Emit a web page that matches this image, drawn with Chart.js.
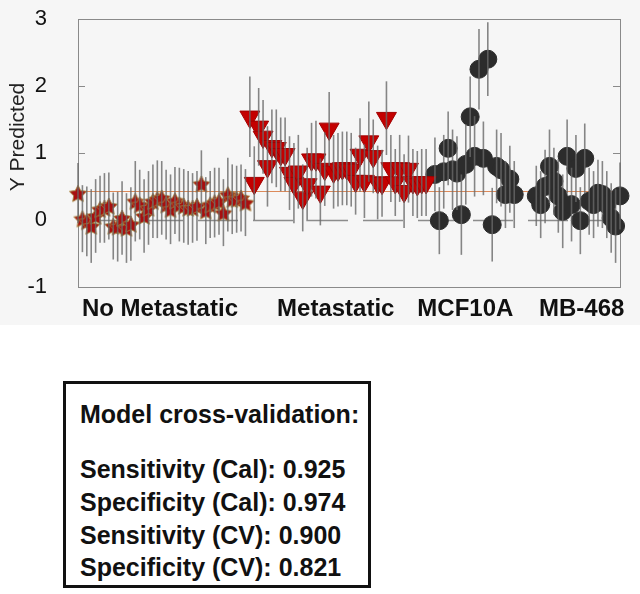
<!DOCTYPE html>
<html>
<head>
<meta charset="utf-8">
<script src="https://cdn.jsdelivr.net/npm/chart.js@4.4.1/dist/chart.umd.min.js"></script>
<style>
  body { margin: 0; background: #ffffff; }
  #wrap { position: absolute; left: 0; top: 0; width: 640px; height: 325px; background: #f6f6f6; }
  #box {
    position: absolute; left: 63px; top: 381px; width: 302px; height: 201px;
    border: 3px solid #111; background: #fff;
    font-family: "Liberation Sans", Arial, sans-serif; font-weight: bold; font-size: 25px;
    color: #111;
  }
  #box div { position: absolute; left: 14px; white-space: nowrap; line-height: 28px; }
</style>
</head>
<body>
<div id="wrap"><canvas id="predChart" width="640" height="325"></canvas></div>
<div id="box">
  <div style="top:16px">Model cross-validation:</div>
  <div style="top:71px">Sensitivity (Cal): 0.925</div>
  <div style="top:104px">Specificity (Cal): 0.974</div>
  <div style="top:137px">Sensitivity (CV): 0.900</div>
  <div style="top:169px">Specificity (CV): 0.821</div>
</div>
<script>
// group labels and where they sit on the sample axis
const groupLabels = ['No Metastatic', 'Metastatic', 'MCF10A', 'MB-468'];
const labelPositions = [18.6, 58.5, 87.9, 114.3];
// first sample index of each group
const groupStarts = [0, 39, 81, 104];

const noMetValues = [0.40, 0.02, -0.02, -0.09, 0.06, 0.16, 0.18, 0.21, -0.09, -0.10,
  0.03, -0.12, -0.06, 0.28, 0.23, 0.06, 0.18, 0.28, 0.31, 0.33,
  0.23, 0.16, 0.29, 0.23, 0.21, 0.18, 0.18, 0.21, 0.54, 0.14,
  0.23, 0.26, 0.28, 0.11, 0.38, 0.31, 0.31, 0.33, 0.26];
const noMetErrors = [0.45, 0.5, 0.52, 0.55, 0.55, 0.5, 0.52, 0.5, 0.5, 0.52,
  0.55, 0.52, 0.55, 0.6, 0.52, 0.55, 0.55, 0.55, 0.58, 0.55,
  0.52, 0.52, 0.5, 0.55, 0.55, 0.55, 0.52, 0.52, 0.5, 0.5,
  0.5, 0.52, 0.5, 0.5, 0.55, 0.52, 0.5, 0.5, 0.5];

const metValues = [1.54, 0.55, 1.39, 1.24, 0.80, 1.10, 1.07, 0.98, 0.98, 0.70,
  0.55, 0.72, 0.33, 0.53, 0.90, 0.90, 0.42, 0.76, 1.36, 0.72,
  0.75, 0.77, 0.77, 0.75, 0.58, 0.97, 0.58, 1.17, 0.95, 0.56,
  0.55, 1.52, 0.77, 0.56, 0.77, 0.43, 0.76, 0.56, 0.53, 0.56, 0.56];
const metErrors = [0.6, 0.55, 0.58, 0.55, 0.6, 0.55, 0.58, 0.55, 0.55, 0.55,
  0.6, 0.55, 0.5, 0.55, 0.55, 0.58, 0.5, 0.55, 0.55, 0.55,
  0.55, 0.55, 0.55, 0.55, 0.5, 0.55, 0.55, 0.6, 0.55, 0.55,
  0.5, 0.55, 0.5, 0.5, 0.5, 0.55, 0.5, 0.5, 0.5, 0.5, 0.5];

const mcfValues = [0.68, -0.01, 0.72, 1.07, 0.75, 0.70, 0.08, 0.83, 1.54, 0.95,
  2.25, 0.92, 2.40, -0.07, 0.80, 0.75, 0.38, 0.61, 0.38];
const mcfErrors = [0.55, 0.5, 0.55, 0.55, 0.6, 0.55, 0.6, 0.6, 0.6, 0.6,
  0.6, 0.55, 0.55, 0.55, 0.55, 0.55, 0.5, 0.5, 0.5];

const mbValues = [0.36, 0.23, 0.50, 0.80, 0.58, 0.36, 0.13, 0.95, 0.23, 0.77,
  -0.01, 0.92, 0.28, 0.23, 0.40, 0.38, 0.23, 0.03, -0.09, 0.36];
const mbErrors = [0.45, 0.5, 0.55, 0.55, 0.5, 0.55, 0.55, 0.55, 0.55, 0.5,
  0.5, 0.52, 0.5, 0.5, 0.5, 0.5, 0.5, 0.52, 0.55, 0.5];

const cutoff = 0.43;

function toPoints(values, start) {
  return values.map((v, i) => ({ x: start + i, y: v }));
}

// five-pointed star marker
function makeStar(size) {
  const c = document.createElement('canvas');
  c.width = size; c.height = size;
  const g = c.getContext('2d');
  const cx = size / 2, cy = size / 2 + 1, R = size / 2 - 1, r = R * 0.5;
  g.beginPath();
  for (let i = 0; i < 10; i++) {
    const a = -Math.PI / 2 + i * Math.PI / 5;
    const rad = i % 2 ? r : R;
    g.lineTo(cx + Math.cos(a) * rad, cy + Math.sin(a) * rad);
  }
  g.closePath();
  g.fillStyle = '#a80f0f';
  g.fill();
  g.lineWidth = 0.9;
  g.strokeStyle = '#a2843a';
  g.stroke();
  return c;
}

const errorBars = {
  id: 'errorBars',
  beforeDatasetsDraw(chart) {
    const { ctx, chartArea: a, scales: { x, y } } = chart;
    ctx.save();
    // frame
    ctx.strokeStyle = '#8a8a8a';
    ctx.lineWidth = 1;
    ctx.strokeRect(a.left + 0.5, a.top + 0.5, a.right - a.left, a.bottom - a.top);
    // inward ticks on the y axes
    [-1, 0, 1, 2, 3].forEach(v => {
      const py = Math.round(y.getPixelForValue(v)) + 0.5;
      ctx.beginPath();
      ctx.moveTo(a.left, py); ctx.lineTo(a.left + 7, py);
      ctx.moveTo(a.right, py); ctx.lineTo(a.right - 7, py);
      ctx.stroke();
    });
    // zero line
    const y0 = Math.round(y.getPixelForValue(0)) + 0.5;
    ctx.strokeStyle = '#8c8c8c';
    ctx.lineWidth = 1.5;
    ctx.setLineDash([40, 15]);
    ctx.beginPath();
    ctx.moveTo(a.left + 10, y0); ctx.lineTo(a.right, y0);
    ctx.stroke();
    ctx.setLineDash([]);
    // cutoff line
    const yc = Math.round(y.getPixelForValue(cutoff)) + 0.5;
    ctx.strokeStyle = '#dc8a5a';
    ctx.lineWidth = 1;
    ctx.beginPath();
    ctx.moveTo(a.left, yc); ctx.lineTo(a.right, yc);
    ctx.stroke();
    // axis title
    ctx.save();
    ctx.translate(18, 137);
    ctx.rotate(-Math.PI / 2);
    ctx.fillStyle = '#222';
    ctx.font = '21px "Liberation Sans", Arial, sans-serif';
    ctx.textAlign = 'center';
    ctx.textBaseline = 'middle';
    ctx.fillText('Y Predicted', 0, 0);
    ctx.restore();
    ctx.restore();
  },
  afterDatasetsDraw(chart) {
    const { ctx, scales: { x, y } } = chart;
    ctx.save();
    ctx.strokeStyle = 'rgba(105,105,105,0.8)';
    ctx.lineWidth = 1.6;
    chart.data.datasets.forEach(ds => {
      ds.data.forEach((p, i) => {
        const e = ds.errors[i];
        const px = x.getPixelForValue(p.x);
        ctx.beginPath();
        ctx.moveTo(px, y.getPixelForValue(p.y + e));
        ctx.lineTo(px, y.getPixelForValue(p.y - e));
        ctx.stroke();
      });
    });
    ctx.restore();
  }
};

new Chart(document.getElementById('predChart'), {
  type: 'scatter',
  data: {
    datasets: [
      {
        label: 'No Metastatic',
        data: toPoints(noMetValues, groupStarts[0]),
        errors: noMetErrors,
        pointStyle: makeStar(20),
        clip: false
      },
      {
        label: 'Metastatic',
        data: toPoints(metValues, groupStarts[1]),
        errors: metErrors,
        pointStyle: 'triangle',
        rotation: 180,
        pointRadius: 11.5,
        backgroundColor: '#c40000',
        borderColor: '#a00000',
        borderWidth: 1,
        clip: false
      },
      {
        label: 'MCF10A',
        data: toPoints(mcfValues, groupStarts[2]),
        errors: mcfErrors,
        pointStyle: 'circle',
        pointRadius: 9,
        backgroundColor: '#2c2c2c',
        borderColor: '#2c2c2c',
        borderWidth: 1,
        clip: false
      },
      {
        label: 'MB-468',
        data: toPoints(mbValues, groupStarts[3]),
        errors: mbErrors,
        pointStyle: 'circle',
        pointRadius: 9,
        backgroundColor: '#2c2c2c',
        borderColor: '#2c2c2c',
        borderWidth: 1,
        clip: false
      }
    ]
  },
  options: {
    responsive: false,
    animation: false,
    layout: { padding: { top: 19, right: 20, left: 0, bottom: 0 } },
    plugins: { legend: { display: false }, tooltip: { enabled: false } },
    scales: {
      x: {
        type: 'linear',
        min: 0,
        max: 123,
        grid: { display: false },
        border: { display: false },
        afterFit(scale) {
          scale.height = 38;
          scale.paddingLeft = 0;
          scale.paddingRight = 0;
        },
        afterBuildTicks(scale) {
          scale.ticks = labelPositions.map(v => ({ value: v }));
        },
        ticks: {
          autoSkip: false,
          maxRotation: 0,
          padding: 0,
          color: '#111',
          font: { family: 'Liberation Sans, Arial, sans-serif', size: 24, weight: 'bold' },
          callback: (v, i) => groupLabels[i]
        }
      },
      y: {
        min: -1,
        max: 3,
        grid: { display: false, drawTicks: false },
        border: { display: false },
        afterFit(scale) {
          scale.width = 78;
          scale.paddingTop = 0;
          scale.paddingBottom = 0;
        },
        ticks: {
          stepSize: 1,
          padding: 31,
          color: '#111',
          font: { family: 'Liberation Sans, Arial, sans-serif', size: 22 }
        }
      }
    }
  },
  plugins: [errorBars]
});
</script>
</body>
</html>
